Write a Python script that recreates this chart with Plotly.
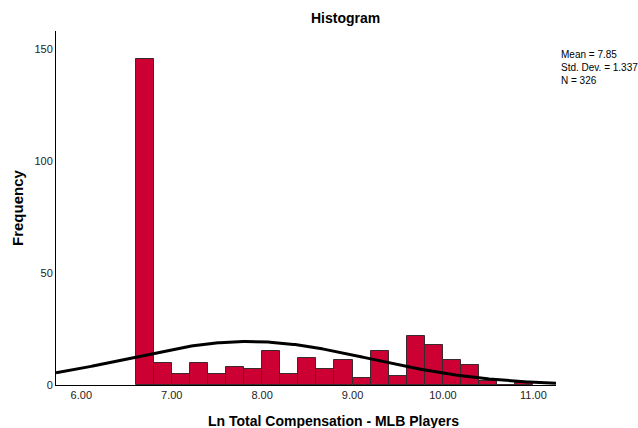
import numpy as np
import plotly.graph_objects as go

# Data
bin_starts = [6.6, 6.8, 7.0, 7.2, 7.4, 7.6, 7.8, 8.0, 8.2, 8.4, 8.6, 8.8, 9.0,
              9.2, 9.4, 9.6, 9.8, 10.0, 10.2, 10.4, 10.6, 10.8]
frequencies = [146, 10, 5, 10, 5, 8, 7, 15, 5, 12, 7, 11, 3,
               15, 4, 22, 18, 11, 9, 2, 0, 1]
bin_width = 0.2
mean_val = 7.85
sd_val = 1.337
n_val = 326
x_tick_vals = [6, 7, 8, 9, 10, 11]
x_tick_text = ["6.00", "7.00", "8.00", "9.00", "10.00", "11.00"]
y_tick_vals = [0, 50, 100, 150]

x_range = [5.72, 11.25]
y_range = [0, 158.3]

centers = [s + bin_width / 2 for s in bin_starts]

# Normal curve from stated statistics
xc = np.linspace(x_range[0], x_range[1], 300)
yc = n_val * bin_width / (sd_val * np.sqrt(2 * np.pi)) * np.exp(-0.5 * ((xc - mean_val) / sd_val) ** 2)

W, H = 638, 428
L, R, T, B = 56, 82, 31, 43
pw, ph = W - L - R, H - T - B

def px(xp):
    return (xp - L) / pw

def py(yp):
    return (H - B - yp) / ph

fig = go.Figure()
fig.add_trace(go.Bar(
    x=centers, y=frequencies, width=bin_width,
    marker=dict(color="#CC0033", line=dict(color="#3a2a2e", width=1)),
    hoverinfo="x+y"
))
fig.add_trace(go.Scatter(
    x=xc, y=yc, mode="lines",
    line=dict(color="black", width=3), hoverinfo="skip"
))

font_family = "Liberation Sans, Arial, sans-serif"

fig.update_layout(
    width=W, height=H,
    margin=dict(l=L, r=R, t=T, b=B, pad=0),
    plot_bgcolor="white", paper_bgcolor="white",
    showlegend=False,
    bargap=0,
    font=dict(family=font_family, size=11, color="#222"),
    xaxis=dict(
        range=x_range, tickvals=x_tick_vals, ticktext=x_tick_text,
        showgrid=False, zeroline=False, showline=True, linecolor="black",
        linewidth=1, ticks="", ticklen=0, tickfont=dict(size=11, color="#222"),
        fixedrange=True
    ),
    yaxis=dict(
        range=y_range, tickvals=y_tick_vals,
        showgrid=False, zeroline=False, showline=True, linecolor="black",
        linewidth=1, ticks="", tickfont=dict(size=11, color="#222"),
        fixedrange=True
    ),
    annotations=[
        dict(text="<b>Histogram</b>", xref="paper", yref="paper",
             x=px(345), y=py(18), showarrow=False,
             font=dict(size=14, color="black", family=font_family),
             xanchor="center", yanchor="middle"),
        dict(text="<b>Frequency</b>", xref="paper", yref="paper",
             x=px(17), y=py(208), showarrow=False, textangle=-90,
             font=dict(size=15, color="black", family=font_family),
             xanchor="center", yanchor="middle"),
        dict(text="<b>Ln Total Compensation - MLB Players</b>", xref="paper", yref="paper",
             x=px(333), y=py(421), showarrow=False,
             font=dict(size=14, color="black", family=font_family),
             xanchor="center", yanchor="middle"),
        dict(text=f"Mean = {mean_val:.2f}<br>Std. Dev. = {sd_val:.3f}<br>N = {n_val}",
             xref="paper", yref="paper",
             x=px(559), y=py(47), showarrow=False, align="left",
             font=dict(size=10, color="black", family=font_family),
             xanchor="left", yanchor="top"),
    ],
)

fig.write_html("out.html")
